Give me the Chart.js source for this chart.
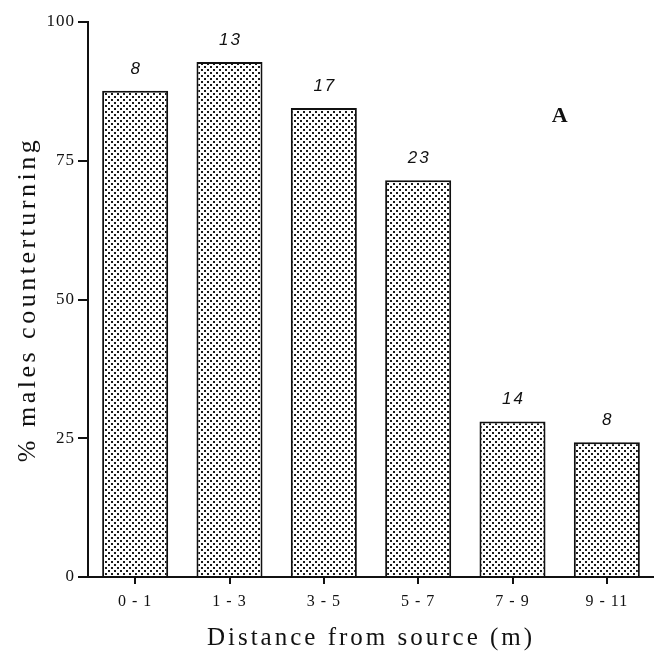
<!DOCTYPE html>
<html>
<head>
<meta charset="utf-8">
<script src="https://cdn.jsdelivr.net/npm/chart.js@4"></script>
<style>
  html, body { margin: 0; padding: 0; background: #fff; }
  #wrap { width: 654px; height: 653px; }
</style>
</head>
<body>
<div id="wrap"><canvas id="chart"></canvas></div>
<script>
var distances = ["0 - 1", "1 - 3", "3 - 5", "5 - 7", "7 - 9", "9 - 11"];
var percentCounterturning = [87.6, 92.8, 84.5, 71.5, 28, 24.3];
var sampleSizes = ["8", "13", "17", "23", "14", "8"];
var yTicks = [0, 25, 50, 75, 100];

var serif = '"Liberation Serif", "Times New Roman", serif';

// stippled fill like the printed figure
function makeStipple() {
  var c = document.createElement('canvas');
  c.width = 6; c.height = 6;
  var g = c.getContext('2d');
  g.fillStyle = '#fff';
  g.fillRect(0, 0, 6, 6);
  g.fillStyle = '#1a1a1a';
  g.fillRect(0, 0, 2, 2);
  g.fillRect(3, 3, 2, 2);
  return g.createPattern(c, 'repeat');
}

function spacedTitle(scale, spacing) {
  if (scale._spaced) return;
  var orig = scale.drawTitle;
  scale.drawTitle = function() {
    var c = this.ctx;
    c.save();
    c.letterSpacing = spacing;
    orig.apply(this, arguments);
    c.restore();
  };
  scale._spaced = true;
}

var textLook = {
  id: 'textLook',
  beforeDraw: function(chart) {
    chart.ctx.letterSpacing = '1px';
    spacedTitle(chart.scales.x, '3px');
    spacedTitle(chart.scales.y, '3.5px');
  }
};

var barLabels = {
  id: 'barLabels',
  afterDatasetsDraw: function(chart) {
    var ctx = chart.ctx;
    var meta = chart.getDatasetMeta(0);
    ctx.save();
    ctx.fillStyle = '#111';
    ctx.letterSpacing = '2px';
    ctx.font = 'italic 17px "Liberation Sans", Arial, sans-serif';
    ctx.textAlign = 'center';
    ctx.textBaseline = 'middle';
    meta.data.forEach(function(bar, i) {
      ctx.fillText(sampleSizes[i], bar.x + 1, bar.y - 22);
    });
    ctx.letterSpacing = '0px';
    ctx.font = 'bold 22px ' + serif;
    ctx.fillText('A', chart.scales.x.getPixelForValue(4.5), chart.scales.y.getPixelForValue(83));
    ctx.restore();
  }
};

var ctx = document.getElementById('chart').getContext('2d');
var chart = new Chart(ctx, {
  type: 'bar',
  data: {
    labels: distances,
    datasets: [{
      data: percentCounterturning,
      backgroundColor: makeStipple(),
      borderColor: '#111',
      borderWidth: 2,
      borderSkipped: 'bottom',
      barPercentage: 0.7,
      categoryPercentage: 1
    }]
  },
  options: {
    responsive: true,
    maintainAspectRatio: false,
    animation: false,
    layout: { padding: { top: 22, right: 0, left: 0, bottom: 0 } },
    plugins: {
      legend: { display: false },
      tooltip: { enabled: false }
    },
    scales: {
      x: {
        grid: { display: true, drawOnChartArea: false, offset: false, tickLength: 7, color: '#111', lineWidth: 2 },
        border: { color: '#111', width: 2 },
        ticks: {
          color: '#111',
          padding: 8,
          font: { family: serif, size: 16 }
        },
        title: {
          display: true,
          text: 'Distance from source (m)',
          color: '#111',
          padding: { top: 3, bottom: 0 },
          font: { family: serif, size: 25 }
        },
        afterFit: function(scale) { scale.height = 76; }
      },
      y: {
        min: 0,
        max: 100,
        afterBuildTicks: function(scale) {
          scale.ticks = yTicks.map(function(v) { return { value: v }; });
        },
        grid: { display: true, drawOnChartArea: false, tickLength: 10, color: '#111', lineWidth: 2 },
        border: { color: '#111', width: 2 },
        ticks: {
          color: '#111',
          padding: 3,
          font: { family: serif, size: 17 }
        },
        title: {
          display: true,
          text: '% males counterturning',
          color: '#111',
          padding: { top: 13, bottom: 0 },
          font: { family: serif, size: 26 }
        },
        afterFit: function(scale) { scale.width = 88; }
      }
    }
  },
  plugins: [textLook, barLabels]
});
</script>
</body>
</html>
